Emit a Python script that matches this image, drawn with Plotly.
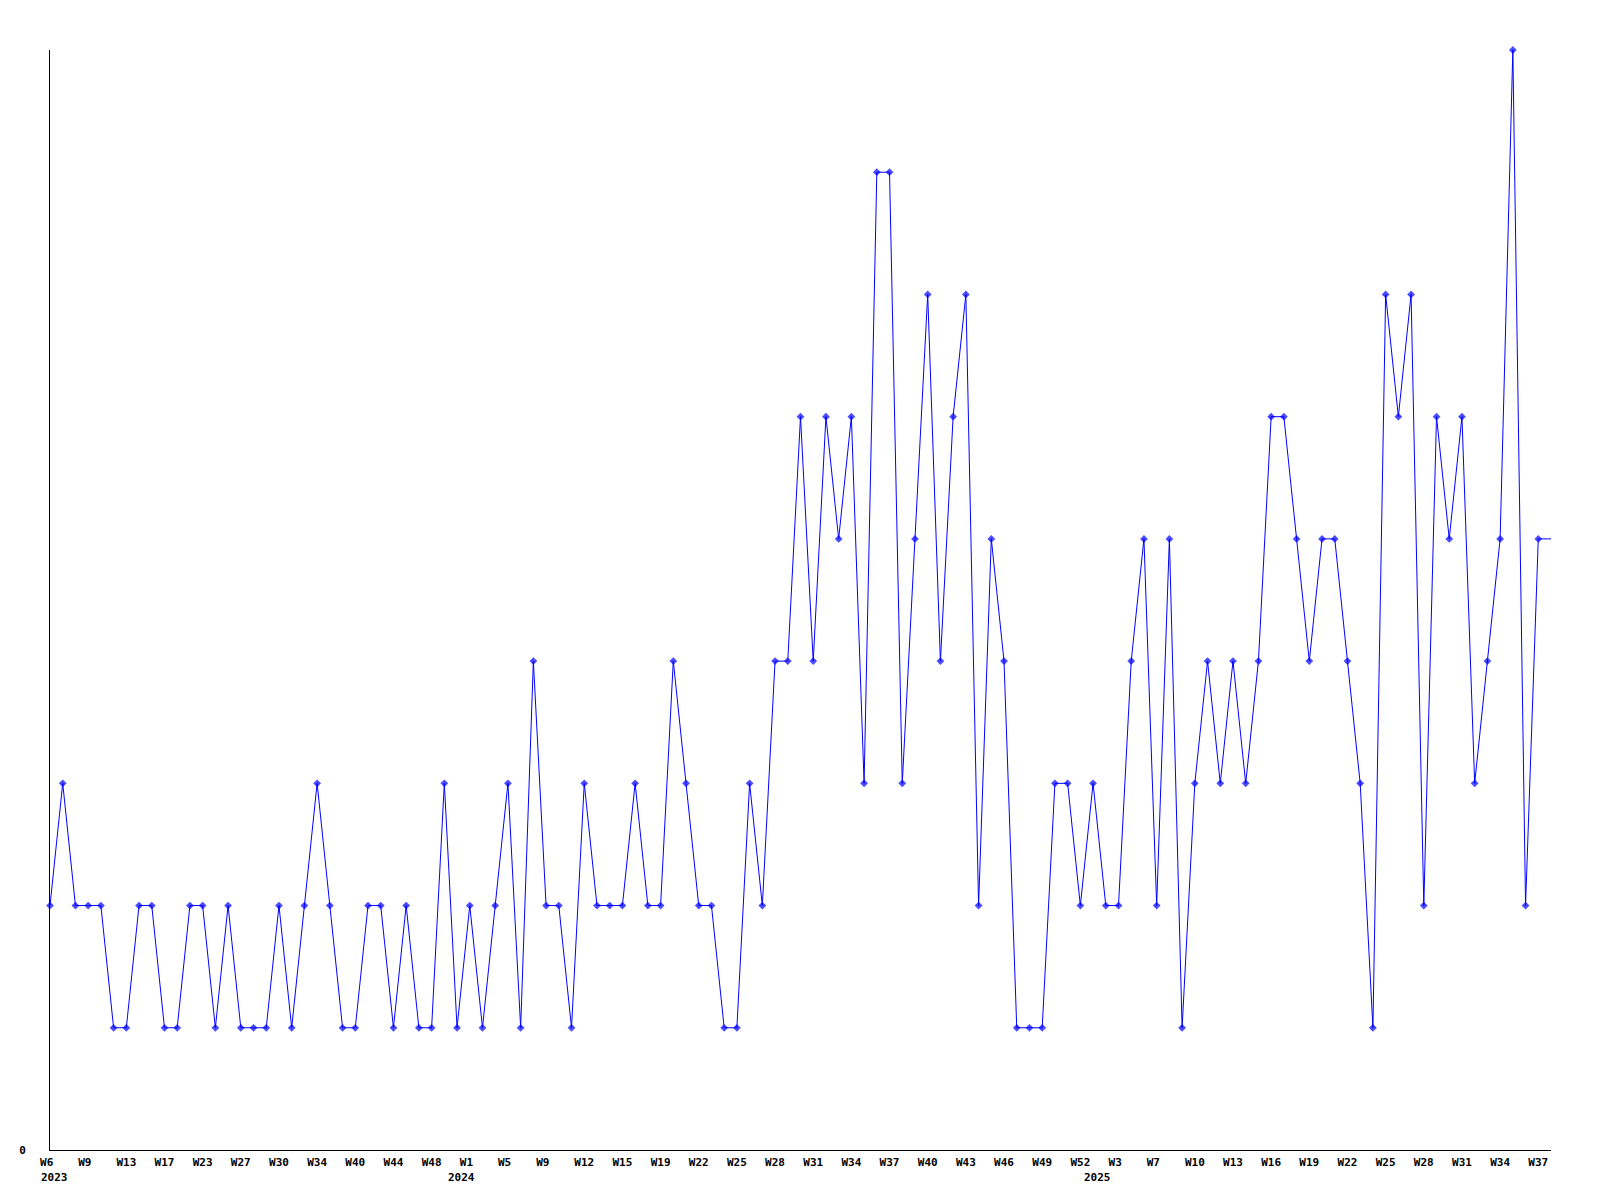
import plotly.graph_objects as go

# weekly counts, one point per week with data (2023 W6 ... 2025 W38)
values = (
    [2, 3, 2, 2, 2, 1, 1, 2, 2, 1]
    + [1, 2, 2, 1, 2, 1, 1, 1, 2, 1]
    + [2, 3, 2, 1, 1, 2, 2, 1, 2, 1]
    + [1, 3, 1, 2, 1, 2, 3, 1, 4, 2]
    + [2, 1, 3, 2, 2, 2, 3, 2, 2, 4]
    + [3, 2, 2, 1, 1, 3, 2, 4, 4, 6]
    + [4, 6, 5, 6, 3, 8, 8, 3, 5, 7]
    + [4, 6, 7, 2, 5, 4, 1, 1, 1, 3]
    + [3, 2, 3, 2, 2, 4, 5, 2, 5, 1]
    + [3, 4, 3, 4, 3, 4, 6, 6, 5, 4]
    + [5, 5, 4, 3, 1, 7, 6, 7, 2, 6]
    + [5, 6, 3, 4, 5, 9, 2, 5, 5]
)

# x tick labels, one every third point
tick_labels = [
    "W6", "W9", "W13", "W17", "W23", "W27", "W30", "W34", "W40", "W44", "W48",
    "W1", "W5", "W9", "W12", "W15", "W19", "W22", "W25", "W28", "W31", "W34",
    "W37", "W40", "W43", "W46", "W49", "W52", "W3", "W7", "W10", "W13", "W16",
    "W19", "W22", "W25", "W28", "W31", "W34", "W37",
]
tick_step = 3

# year labels and the point index where each year label sits
year_labels = ["2023", "2024", "2025"]
year_index = [0, 32, 82]

x = list(range(len(values)))
tickvals = [i * tick_step for i in range(len(tick_labels))]
ticktext = [t + "\u00a0" * (3 - len(t)) for t in tick_labels]

marker_sizes = [6] * (len(values) - 1) + [0]

fig = go.Figure()
fig.add_trace(go.Scatter(
    x=x, y=values, mode="lines+markers",
    line=dict(color="#0000ff", width=1),
    marker=dict(symbol="diamond", size=marker_sizes, color="#0000ff",
                line=dict(width=0)),
    cliponaxis=False,
    showlegend=False,
    hoverinfo="skip",
))

font = dict(family="DejaVu Sans Mono", size=11, color="black", weight="bold")

fig.update_xaxes(
    range=[0, len(values) - 1],
    tickmode="array", tickvals=tickvals, ticktext=ticktext,
    ticks="", showgrid=False, zeroline=False,
    showline=True, linecolor="black", linewidth=1,
    tickfont=font, tickangle=0, ticklabelstandoff=2,
)
fig.update_yaxes(
    range=[0, 9],
    tickmode="array", tickvals=[0], ticktext=["0"],
    ticks="", showgrid=False, zeroline=False,
    showline=True, linecolor="black", linewidth=1,
    tickfont=font, ticklabelstandoff=21,
)

for lab, idx in zip(year_labels, year_index):
    fig.add_annotation(
        x=idx, y=0, xref="x", yref="paper",
        text=lab, showarrow=False,
        xanchor="left", yanchor="top",
        xshift=-11, yshift=-19,
        font=font,
    )

fig.update_layout(
    width=1600, height=1200,
    margin=dict(l=50, r=49, t=50, b=50, autoexpand=False),
    paper_bgcolor="white", plot_bgcolor="white",
)

fig.write_html(
    "out.html",
    config={"displayModeBar": False},
    post_script="document.body.style.margin='0';document.body.style.padding='0';document.body.style.overflow='hidden';",
)
